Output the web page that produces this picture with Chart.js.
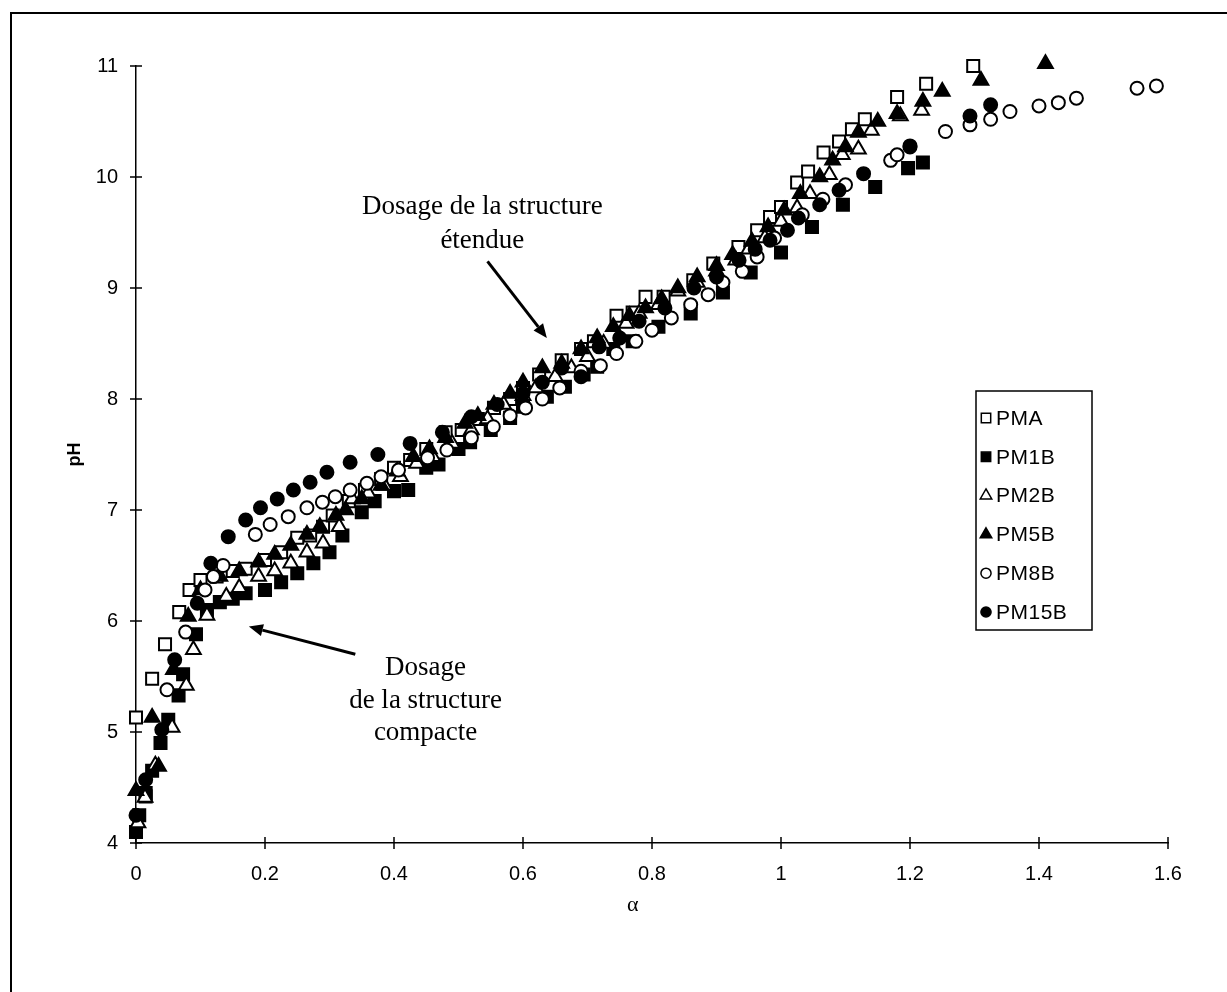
<!DOCTYPE html>
<html>
<head>
<meta charset="utf-8">
<script src="https://cdn.jsdelivr.net/npm/chart.js@4.4.1/dist/chart.umd.min.js"></script>
<style>
  html, body { margin: 0; padding: 0; background: #fff; }
  #wrap { position: relative; width: 1227px; height: 992px; overflow: hidden; }
  #frame { position: absolute; left: 10px; top: 12px; width: 1240px; height: 1000px;
           border-left: 2px solid #000; border-top: 2px solid #000; }
  canvas { position: absolute; left: 0; top: 0; }
</style>
</head>
<body>
<div id="wrap">
  <div id="frame"></div>
  <canvas id="phChart" width="1227" height="992"></canvas>
</div>
<script>
// points as [alpha, pH]
const PMA = [[0,5.13],[0.015,4.42],[0.025,5.48],[0.045,5.79],[0.067,6.08],[0.083,6.28],[0.1,6.37],
  [0.125,6.4],[0.15,6.45],[0.17,6.47],[0.2,6.55],[0.225,6.62],[0.25,6.75],[0.27,6.77],[0.29,6.85],
  [0.305,6.95],[0.33,7.08],[0.355,7.18],[0.38,7.28],[0.4,7.38],[0.425,7.45],[0.45,7.55],[0.48,7.7],
  [0.505,7.72],[0.53,7.82],[0.555,7.92],[0.58,8.0],[0.6,8.1],[0.625,8.22],[0.66,8.35],[0.69,8.45],
  [0.71,8.52],[0.745,8.75],[0.77,8.78],[0.79,8.92],[0.818,8.92],[0.864,9.07],[0.895,9.22],[0.934,9.37],
  [0.963,9.52],[0.983,9.64],[1.0,9.73],[1.025,9.95],[1.042,10.05],[1.066,10.22],[1.09,10.32],
  [1.11,10.43],[1.13,10.52],[1.18,10.72],[1.225,10.84],[1.298,11.0]];

const PM1B = [[0,4.1],[0.005,4.25],[0.015,4.45],[0.025,4.65],[0.038,4.9],[0.05,5.11],[0.066,5.33],
  [0.073,5.52],[0.093,5.88],[0.11,6.1],[0.13,6.17],[0.15,6.2],[0.17,6.25],[0.2,6.28],[0.225,6.35],
  [0.25,6.43],[0.275,6.52],[0.3,6.62],[0.32,6.77],[0.35,6.98],[0.37,7.08],[0.4,7.17],[0.422,7.18],
  [0.45,7.38],[0.469,7.41],[0.5,7.55],[0.518,7.61],[0.55,7.72],[0.58,7.83],[0.6,7.93],[0.637,8.02],
  [0.665,8.11],[0.694,8.22],[0.715,8.29],[0.74,8.45],[0.77,8.52],[0.81,8.65],[0.86,8.77],[0.91,8.96],
  [0.953,9.14],[1.0,9.32],[1.048,9.55],[1.096,9.75],[1.146,9.91],[1.197,10.08],[1.22,10.13]];

const PM2B = [[0.003,4.18],[0.014,4.41],[0.03,4.7],[0.056,5.04],[0.078,5.42],[0.089,5.74],[0.11,6.05],
  [0.14,6.22],[0.16,6.3],[0.19,6.4],[0.215,6.45],[0.24,6.52],[0.265,6.62],[0.29,6.7],[0.315,6.85],
  [0.335,7.1],[0.36,7.15],[0.385,7.22],[0.41,7.3],[0.435,7.42],[0.46,7.48],[0.49,7.6],[0.52,7.72],
  [0.545,7.82],[0.57,7.95],[0.6,8.03],[0.62,8.1],[0.65,8.2],[0.675,8.28],[0.7,8.38],[0.725,8.5],
  [0.76,8.68],[0.78,8.77],[0.81,8.85],[0.84,8.97],[0.87,9.05],[0.9,9.15],[0.93,9.25],[0.95,9.35],
  [0.975,9.45],[1.0,9.6],[1.025,9.72],[1.045,9.85],[1.075,10.02],[1.095,10.2],[1.12,10.25],
  [1.14,10.42],[1.185,10.55],[1.218,10.6]];

const PM5B = [[0,4.47],[0.025,5.13],[0.035,4.69],[0.058,5.56],[0.081,6.04],[0.1,6.28],[0.13,6.4],
  [0.16,6.45],[0.19,6.53],[0.215,6.6],[0.24,6.68],[0.265,6.78],[0.285,6.85],[0.31,6.95],[0.325,7.0],
  [0.35,7.1],[0.38,7.22],[0.405,7.35],[0.43,7.48],[0.455,7.55],[0.48,7.65],[0.51,7.78],[0.53,7.85],
  [0.555,7.95],[0.58,8.05],[0.6,8.15],[0.63,8.28],[0.66,8.32],[0.69,8.45],[0.715,8.55],[0.74,8.65],
  [0.765,8.75],[0.79,8.82],[0.815,8.9],[0.84,9.0],[0.87,9.1],[0.9,9.2],[0.925,9.3],[0.955,9.42],
  [0.98,9.55],[1.005,9.7],[1.03,9.85],[1.06,10.0],[1.08,10.15],[1.1,10.27],[1.12,10.4],[1.15,10.5],
  [1.18,10.57],[1.22,10.68],[1.25,10.77],[1.31,10.87],[1.41,11.02]];

const PM8B = [[0.048,5.38],[0.077,5.9],[0.107,6.28],[0.12,6.4],[0.135,6.5],[0.185,6.78],[0.208,6.87],
  [0.236,6.94],[0.265,7.02],[0.289,7.07],[0.309,7.12],[0.332,7.18],[0.358,7.24],[0.38,7.3],
  [0.407,7.36],[0.452,7.47],[0.482,7.54],[0.52,7.65],[0.554,7.75],[0.58,7.85],[0.604,7.92],
  [0.63,8.0],[0.657,8.1],[0.69,8.25],[0.72,8.3],[0.745,8.41],[0.775,8.52],[0.8,8.62],[0.83,8.73],
  [0.86,8.85],[0.887,8.94],[0.91,9.05],[0.94,9.15],[0.963,9.28],[0.99,9.45],[1.033,9.66],
  [1.065,9.8],[1.1,9.93],[1.17,10.15],[1.18,10.2],[1.2,10.28],[1.255,10.41],[1.293,10.47],
  [1.325,10.52],[1.355,10.59],[1.4,10.64],[1.43,10.67],[1.458,10.71],[1.552,10.8],[1.582,10.82]];

const PM15B = [[0,4.25],[0.015,4.57],[0.04,5.02],[0.06,5.65],[0.095,6.16],[0.116,6.52],[0.143,6.76],
  [0.17,6.91],[0.193,7.02],[0.219,7.1],[0.244,7.18],[0.27,7.25],[0.296,7.34],[0.332,7.43],
  [0.375,7.5],[0.425,7.6],[0.475,7.7],[0.52,7.84],[0.56,7.95],[0.6,8.05],[0.63,8.15],[0.66,8.28],
  [0.69,8.2],[0.718,8.47],[0.75,8.55],[0.78,8.7],[0.82,8.82],[0.865,9.0],[0.9,9.1],[0.935,9.25],
  [0.96,9.35],[0.983,9.43],[1.01,9.52],[1.027,9.63],[1.06,9.75],[1.09,9.88],[1.128,10.03],
  [1.2,10.27],[1.293,10.55],[1.325,10.65]];

const seriesNames = ['PMA', 'PM1B', 'PM2B', 'PM5B', 'PM8B', 'PM15B'];
const seriesData = [PMA, PM1B, PM2B, PM5B, PM8B, PM15B];
const seriesStyles = [
  { pointStyle: 'rect', filled: false, r: 8.5 },
  { pointStyle: 'rect', filled: true, r: 8.5 },
  { pointStyle: 'triangle', filled: false, r: 8.5 },
  { pointStyle: 'triangle', filled: true, r: 8.5 },
  { pointStyle: 'circle', filled: false, r: 6.5 },
  { pointStyle: 'circle', filled: true, r: 6.5 }
];

const xTicks = [0, 0.2, 0.4, 0.6, 0.8, 1, 1.2, 1.4, 1.6];
const yTicks = [4, 5, 6, 7, 8, 9, 10, 11];

// annotation labels in data units
const noteTop = { lines: ['Dosage de la structure', 'étendue'], x: 0.537, y: [9.73, 9.42], from: [0.545, 9.24], to: [0.637, 8.55] };
const noteLow = { lines: ['Dosage', 'de la structure', 'compacte'], x: 0.449, y: [5.58, 5.28, 4.99], from: [0.34, 5.7], to: [0.175, 5.95] };
const xTitlePos = 0.77;

const datasets = seriesData.map((pts, i) => ({
  label: seriesNames[i],
  data: pts.map(p => ({ x: p[0], y: p[1] })),
  pointStyle: seriesStyles[i].pointStyle,
  pointRadius: seriesStyles[i].r,
  pointHoverRadius: seriesStyles[i].r,
  pointBorderWidth: 2,
  pointBorderColor: '#000',
  pointBackgroundColor: seriesStyles[i].filled ? '#000' : '#fff',
  showLine: false,
  clip: false,
  order: seriesNames.length - i
}));

// tick marks crossing both axes
const crossTicks = {
  id: 'crossTicks',
  afterDraw(chart) {
    const { ctx, chartArea: a, scales } = chart;
    ctx.save();
    ctx.strokeStyle = '#000';
    ctx.lineWidth = 1.5;
    ctx.beginPath();
    xTicks.forEach(v => {
      const px = scales.x.getPixelForValue(v);
      ctx.moveTo(px, a.bottom - 6); ctx.lineTo(px, a.bottom + 6);
    });
    yTicks.forEach(v => {
      const py = scales.y.getPixelForValue(v);
      ctx.moveTo(a.left - 6, py); ctx.lineTo(a.left + 6, py);
    });
    ctx.stroke();
    ctx.restore();
  }
};

function arrow(ctx, x1, y1, x2, y2) {
  const ang = Math.atan2(y2 - y1, x2 - x1);
  const len = 14, half = 6;
  const bx = x2 - Math.cos(ang) * len, by = y2 - Math.sin(ang) * len;
  ctx.beginPath();
  ctx.moveTo(x1, y1); ctx.lineTo(bx, by);
  ctx.stroke();
  ctx.beginPath();
  ctx.moveTo(x2, y2);
  ctx.lineTo(bx + Math.sin(ang) * half, by - Math.cos(ang) * half);
  ctx.lineTo(bx - Math.sin(ang) * half, by + Math.cos(ang) * half);
  ctx.closePath();
  ctx.fill();
}

const notesAndTitles = {
  id: 'notesAndTitles',
  afterDraw(chart) {
    const { ctx, chartArea: a, scales: { x, y } } = chart;
    ctx.save();
    ctx.fillStyle = '#000';
    ctx.strokeStyle = '#000';
    ctx.lineWidth = 3;
    ctx.textAlign = 'center';
    ctx.textBaseline = 'middle';
    ctx.font = '27px "Liberation Serif"';
    [noteTop, noteLow].forEach(n => {
      n.lines.forEach((t, k) => ctx.fillText(t, x.getPixelForValue(n.x), y.getPixelForValue(n.y[k])));
      arrow(ctx, x.getPixelForValue(n.from[0]), y.getPixelForValue(n.from[1]),
        x.getPixelForValue(n.to[0]), y.getPixelForValue(n.to[1]));
    });
    // axis titles
    ctx.font = '22px "Liberation Serif"';
    ctx.fillText('α', x.getPixelForValue(xTitlePos), 905);
    ctx.font = 'bold 18px "Liberation Sans"';
    ctx.translate(75, (a.top + a.bottom) / 2);
    ctx.rotate(-Math.PI / 2);
    ctx.fillText('pH', 0, 0);
    ctx.restore();
  }
};

const legendBox = {
  id: 'legendBox',
  afterDraw(chart) {
    const ctx = chart.ctx;
    const left = 976, top = 391, w = 116, h = 239;
    ctx.save();
    ctx.fillStyle = '#fff';
    ctx.fillRect(left, top, w, h);
    ctx.strokeStyle = '#000';
    ctx.lineWidth = 1.5;
    ctx.strokeRect(left, top, w, h);
    ctx.font = '21px "Liberation Sans"';
    ctx.letterSpacing = '0.5px';
    ctx.textBaseline = 'middle';
    ctx.textAlign = 'left';
    seriesNames.forEach((name, i) => {
      const cy = top + 27 + i * 38.8;
      const st = seriesStyles[i];
      ctx.fillStyle = st.filled ? '#000' : '#fff';
      ctx.strokeStyle = '#000';
      ctx.lineWidth = 1.5;
      Chart.helpers.drawPoint(ctx, { pointStyle: st.pointStyle, radius: st.r * 0.78, borderWidth: 1.5, rotation: 0 }, left + 10, cy);
      ctx.fillStyle = '#000';
      ctx.fillText(name, left + 20, cy + 1);
    });
    ctx.restore();
  }
};

new Chart(document.getElementById('phChart'), {
  type: 'scatter',
  data: { datasets },
  options: {
    responsive: false,
    animation: false,
    events: [],
    layout: { padding: { left: 0, top: 66, right: 59, bottom: 0 } },
    plugins: { legend: { display: false }, tooltip: { enabled: false } },
    scales: {
      x: {
        type: 'linear', min: 0, max: 1.6,
        grid: { display: false, drawTicks: false },
        border: { display: true, color: '#000', width: 1.5 },
        ticks: { stepSize: 0.2, color: '#000', padding: 19, maxRotation: 0,
                 callback: v => String(Math.round(v * 10) / 10),
                 font: { family: 'Liberation Sans', size: 20 } },
        afterFit(scale) { scale.height = 992 - 843; }
      },
      y: {
        type: 'linear', min: 4, max: 11,
        grid: { display: false, drawTicks: false },
        border: { display: true, color: '#000', width: 1.5 },
        ticks: { stepSize: 1, color: '#000', padding: 18,
                 font: { family: 'Liberation Sans', size: 20 } },
        afterFit(scale) { scale.width = 136; }
      }
    }
  },
  plugins: [crossTicks, notesAndTitles, legendBox]
});
</script>
</body>
</html>
